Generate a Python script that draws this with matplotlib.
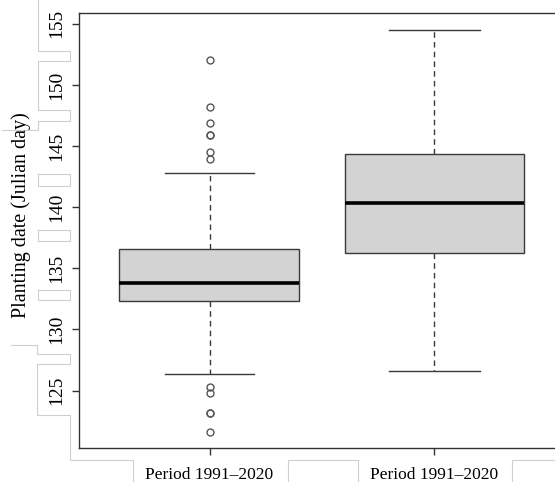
import numpy as np
import matplotlib
matplotlib.use("Agg")
import matplotlib.pyplot as plt
from matplotlib.lines import Line2D

# values (Julian day)
labels = ["Period 1991\u20132020", "Period 1991\u20132020"]
q1 = [132.35, 136.29]
med = [133.80, 140.38]
q3 = [136.61, 144.32]
whislo = [126.34, 126.61]
whishi = [142.81, 154.53]
fliers = [
    [152.0, 148.2, 146.9, 145.9, 145.9, 144.5, 143.9, 125.3, 124.8, 123.2, 123.2, 121.6],
    [],
]
yticks = [125, 130, 135, 140, 145, 150, 155]

W, H = 555, 482
plt.rcParams['font.family'] = ['Liberation Serif', 'DejaVu Serif']
fig = plt.figure(figsize=(W / 100, H / 100), dpi=100)
ax = fig.add_axes([79 / W, 34 / H, 486 / W, 435 / H])

stats = []
for i in range(len(labels)):
    stats.append(dict(med=med[i], q1=q1[i], q3=q3[i], whislo=whislo[i],
                      whishi=whishi[i], fliers=fliers[i], label=labels[i]))

ax.bxp(stats, positions=[1, 2], widths=0.8, capwidths=0.4, patch_artist=True,
       boxprops=dict(facecolor="#d3d3d3", edgecolor="#3a3a3a", linewidth=1.0),
       medianprops=dict(color="black", linewidth=2.6, solid_capstyle="butt"),
       whiskerprops=dict(color="#3a3a3a", linewidth=1.0, linestyle=(0, (4, 3))),
       capprops=dict(color="#3a3a3a", linewidth=1.0),
       flierprops=dict(marker="o", markersize=5, markerfacecolor="none",
                       markeredgecolor="#555555", markeredgewidth=1.0))

ax.set_xlim(0.42, 2.58)
ax.set_ylim(120.3, 155.88)
ax.set_yticks(yticks)
ax.set_yticklabels([str(t) for t in yticks], rotation=90, va="center", fontsize=14)
ax.set_xticks([1, 2])
ax.set_xticklabels(labels, fontsize=12.5)
ax.tick_params(axis="y", length=5, width=1, color="#333333", pad=5)
ax.tick_params(axis="x", length=5, width=1, color="#333333", pad=9)
for s in ax.spines.values():
    s.set_color("#333333")
    s.set_linewidth(1.0)

fig.text(21 / W, 1 - 215 / H, "Planting date (Julian day)", rotation=90,
         ha="center", va="center", fontsize=14.5)

# faint label-box outlines seen in the reference
paths = [
    [(38, 0), (38, 51), (70, 51), (70, 61), (38, 61), (38, 110), (70, 110),
     (70, 121), (38, 121), (38, 130), (2, 130)],
    [(11, 345), (37, 345), (37, 354), (70, 354), (70, 364), (37, 364),
     (37, 415), (70, 415), (70, 460), (133, 460), (133, 482)],
    [(288, 482), (288, 460), (358, 460), (358, 482)],
    [(512, 482), (512, 460), (555, 460)],
]
for y0, y1 in [(174, 186), (230, 241), (290, 300)]:
    paths.append([(38, y0), (70, y0), (70, y1), (38, y1), (38, y0)])
for p in paths:
    xs = [x / W for x, y in p]
    ys = [1 - y / H for x, y in p]
    fig.add_artist(Line2D(xs, ys, color="#cfcfcf", linewidth=0.8))

fig.savefig("out.png", dpi=100)
